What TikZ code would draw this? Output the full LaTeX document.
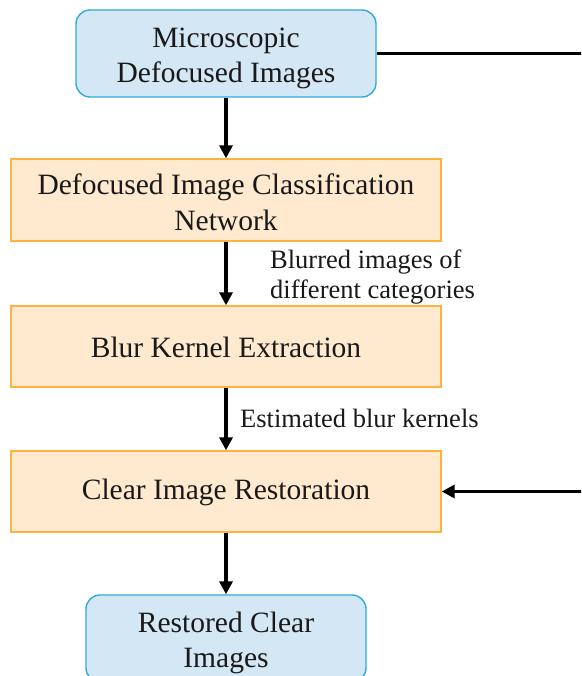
\documentclass[tikz,border=0pt]{standalone}
\usepackage{fontspec}
\setmainfont{Liberation Serif}
\usetikzlibrary{arrows.meta}
\definecolor{bluefill}{RGB}{212,231,244}
\definecolor{blueline}{RGB}{48,170,222}
\definecolor{orangefill}{RGB}{255,234,208}
\definecolor{orangeline}{RGB}{255,178,62}
\definecolor{txt}{RGB}{25,25,25}
\newcommand{\gapup}[1]{\rule{0pt}{#1}}
\begin{document}
\begin{tikzpicture}[x=1pt,y=-1pt,
  mainfont/.style={font=\fontsize{29.5}{35.5}\selectfont},
  bluebox/.style={draw=blueline,fill=bluefill,line width=1.4pt,rounded corners=14pt,align=center,mainfont,inner sep=0pt,text=txt},
  orangebox/.style={draw=orangeline,fill=orangefill,line width=1.4pt,align=center,mainfont,inner sep=0pt,text=txt,minimum width=430pt,minimum height=81pt},
  flow/.style={line width=3.6pt,-{Triangle[length=13pt,width=13pt]}},
  lbl/.style={font=\fontsize{26.5}{31}\selectfont,inner sep=0pt,anchor=base west,text=txt}]
\useasboundingbox (0,0) rectangle (581,676);
\clip (0,0) rectangle (581,676);
\node[bluebox,minimum width=300pt,minimum height=87pt] (src) at (226,53.5) {\gapup{29pt}Microscopic\\Defocused Images};
\node[orangebox,minimum height=82pt] (cls) at (226,200) {\gapup{25pt}Defocused Image Classification\\Network};
\node[orangebox] (blur) at (226,346.5) {\gapup{22pt}Blur Kernel Extraction};
\node[orangebox] (rest) at (226,491.5) {\gapup{22pt}Clear Image Restoration};
\node[bluebox,minimum width=280pt,minimum height=87pt] (out) at (226,638.5) {\gapup{29pt}Restored Clear\\Images};
\draw[flow] (src.south) -- (cls.north);
\draw[flow] (cls.south) -- (blur.north);
\draw[flow] (blur.south) -- (rest.north);
\draw[flow] (rest.south) -- (out.north);
\coordinate (corner) at (600,53.5);
\draw[flow] (src.east) -- (corner) |- (rest.east);
\node[lbl] (l1) at (270,268) {Blurred images of};
\node[lbl] (l2) at (270,298) {different categories};
\node[lbl] (l3) at (240,427) {Estimated blur kernels};
\end{tikzpicture}
\end{document}
